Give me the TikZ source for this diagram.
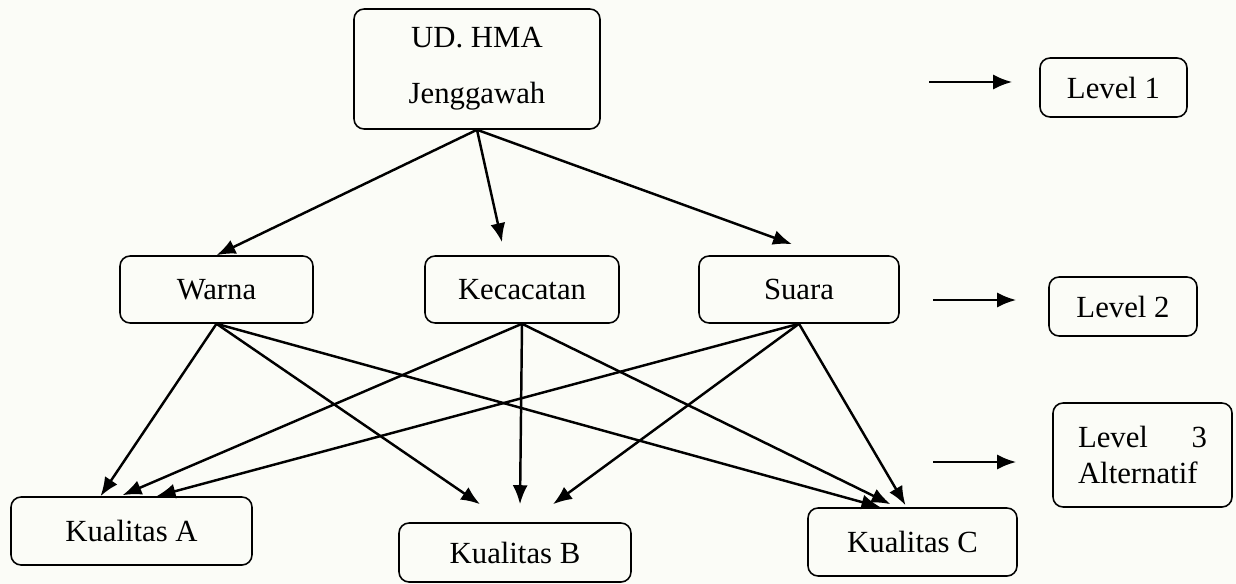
\documentclass[tikz,border=0pt]{standalone}
\usepackage{fontspec}
\setmainfont{Liberation Serif}
\usetikzlibrary{arrows.meta}
\definecolor{paper}{RGB}{251,252,247}
\tikzset{
	box/.style={draw, rounded corners=0.2cm, line width=0.9pt, inner sep=0pt, align=center, font=\fontsize{17.5}{21}\selectfont},
	link/.style={-{Latex[length=0.38cm, width=0.3cm]}, line width=1.4pt},
}
\begin{document}
\begin{tikzpicture}[x=0.02cm, y=-0.02cm]
	
	\fill[paper] (0,0) rectangle (1236,584); % page
	\useasboundingbox (0,0) rectangle (1236,584);
	
	% goal
	\node[box, minimum width=4.92cm, minimum height=2.4cm] (hma) at (477,69) {UD. HMA\\[11pt]Jenggawah};
	
	% criteria
	\node[box, minimum width=3.86cm, minimum height=1.34cm] (warna) at (216.5,289.5) {Warna};
	\node[box, minimum width=3.88cm, minimum height=1.34cm] (cacat) at (522,289.5) {Kecacatan};
	\node[box, minimum width=4.0cm, minimum height=1.34cm] (suara) at (799,289.5) {Suara};
	
	% alternatives
	\node[box, minimum width=4.82cm, minimum height=1.36cm] (ka) at (131.5,531) {Kualitas A};
	\node[box, minimum width=4.64cm, minimum height=1.18cm] (kb) at (515,552.5) {Kualitas B};
	\node[box, minimum width=4.18cm, minimum height=1.36cm] (kc) at (912.5,542) {Kualitas C};
	
	% levels
	\node[box, minimum width=2.94cm, minimum height=1.18cm] (lv1) at (1113.5,87.5) {Level 1};
	\node[box, minimum width=2.96cm, minimum height=1.18cm] (lv2) at (1123,306.5) {Level 2};
	\node[box, minimum width=3.58cm, minimum height=2.08cm, text width=2.58cm, align=justify] (lv3) at (1142.5,455) {Level 3 Alternatif};
	
	\draw[link] (hma.south) -- (warna.north);
	\draw[link] (hma.south) -- ([shift={(-20,-13)}]cacat.north);
	\draw[link] (hma.south) -- ([shift={(-7,-11)}]suara.north);
	
	\draw[link] (warna.south) -- ([shift={(-31,0)}]ka.north);
	\draw[link] (warna.south) -- ([shift={(-35,-18)}]kb.north);
	\draw[link] (warna.south) -- ([shift={(-32,0)}]kc.north);
	
	\draw[link] (cacat.south) -- ([shift={(-9,-1)}]ka.north);
	\draw[link] (cacat.south) -- ([shift={(5,-18)}]kb.north);
	\draw[link] (cacat.south) -- ([shift={(-22,-3)}]kc.north);
	
	\draw[link] (suara.south) -- ([shift={(25,0)}]ka.north);
	\draw[link] (suara.south) -- ([shift={(38,-18)}]kb.north);
	\draw[link] (suara.south) -- ([shift={(-7,-2)}]kc.north);
	
	\coordinate (s1) at (929,82);
	\coordinate (s2) at (933,300);
	\coordinate (s3) at (933,462);
	\draw[link] (s1) -- ([shift={(-27,-5.5)}]lv1.west);
	\draw[link] (s2) -- ([shift={(-32,-6.5)}]lv2.west);
	\draw[link] (s3) -- ([shift={(-36,7)}]lv3.west);
	
\end{tikzpicture}
\end{document}
